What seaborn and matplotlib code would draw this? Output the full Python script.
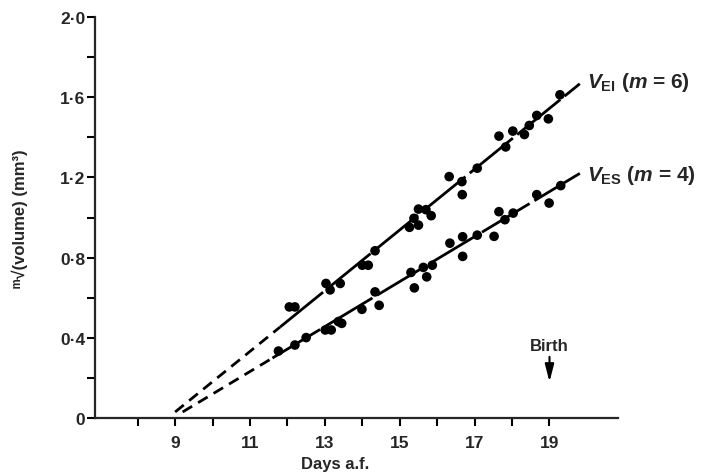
import matplotlib
matplotlib.use("Agg")
import matplotlib.pyplot as plt
import seaborn as sns
import pandas as pd
import numpy as np

# ---- data ----
vei_days = [12.05, 12.20, 13.03, 13.14, 13.41, 14.00, 14.16, 14.34, 15.26, 15.38,
            15.50, 15.50, 15.70, 15.84, 16.32, 16.66, 16.67, 17.07, 17.65, 17.83,
            18.02, 18.33, 18.46, 18.66, 18.97, 19.28]
vei_vals = [0.554, 0.554, 0.671, 0.639, 0.671, 0.762, 0.762, 0.834, 0.951, 0.996,
            0.962, 1.042, 1.039, 1.009, 1.204, 1.179, 1.114, 1.246, 1.406, 1.352,
            1.431, 1.414, 1.459, 1.509, 1.492, 1.612]

ves_days = [11.76, 12.20, 12.50, 13.01, 13.17, 13.36, 13.45, 13.99, 14.34, 14.45,
            15.30, 15.39, 15.63, 15.72, 15.87, 16.34, 16.68, 16.68, 17.07, 17.52,
            17.65, 17.81, 18.03, 18.66, 18.99, 19.30]
ves_vals = [0.334, 0.364, 0.401, 0.439, 0.439, 0.481, 0.472, 0.542, 0.629, 0.562,
            0.726, 0.649, 0.751, 0.704, 0.762, 0.872, 0.904, 0.806, 0.912, 0.906,
            1.029, 0.989, 1.022, 1.114, 1.072, 1.159]

# fitted lines: extrapolated (dashed) and fitted (solid) parts
vei_dash_days = [9.0, 11.8]
vei_dash_vals = [0.030, 0.453]
vei_fit_days = [11.8, 19.81]
vei_fit_vals = [0.453, 1.667]

ves_dash_days = [9.2, 11.6]
ves_dash_vals = [0.030, 0.299]
ves_fit_days = [11.6, 19.81]
ves_fit_vals = [0.299, 1.220]

y_ticks = [0, 0.4, 0.8, 1.2, 1.6, 2.0]
y_ticklabels = ['0', '0·4', '0·8', '1·2', '1·6', '2·0']
x_ticks = [9, 11, 13, 15, 17, 19]
x_ticklabels = ['9', '11', '13', '15', '17', '19']

sns.set_style("ticks")
plt.rcParams['font.family'] = ['Liberation Sans', 'DejaVu Sans']
plt.rcParams['mathtext.fontset'] = 'custom'
plt.rcParams['mathtext.rm'] = 'Liberation Sans:bold'
plt.rcParams['mathtext.it'] = 'Liberation Sans:italic:bold'
plt.rcParams['mathtext.bf'] = 'Liberation Sans:bold'

fig = plt.figure(figsize=(7.01, 4.77), dpi=100)
ax = fig.add_axes([95/701, 1-419/477, (618-95)/701, (419-18)/477])

df_vei = pd.DataFrame({'day': vei_days, 'val': vei_vals})
df_ves = pd.DataFrame({'day': ves_days, 'val': ves_vals})

lw = 2.0
sns.lineplot(x=vei_dash_days, y=vei_dash_vals, ax=ax, color='black', lw=lw, linestyle=(0, (4, 2.5)))
sns.lineplot(x=ves_dash_days, y=ves_dash_vals, ax=ax, color='black', lw=lw, linestyle=(0, (4, 2.5)))
sns.lineplot(x=vei_fit_days, y=vei_fit_vals, ax=ax, color='black', lw=lw, linestyle=(0, (20, 2)))
sns.lineplot(x=ves_fit_days, y=ves_fit_vals, ax=ax, color='black', lw=lw, linestyle=(0, (20, 2)))

sns.scatterplot(data=df_vei, x='day', y='val', ax=ax, color='black', s=48, edgecolor='none', zorder=5)
sns.scatterplot(data=df_ves, x='day', y='val', ax=ax, color='black', s=48, edgecolor='none', zorder=5)

ax.set_xlim(6.86, 20.83)
ax.set_ylim(0, 2.0)
ax.set_yticks(y_ticks)
ax.set_yticklabels(y_ticklabels)
ax.set_yticks([0.2, 0.6, 1.0, 1.4, 1.8], minor=True)
ax.set_xticks(x_ticks)
ax.set_xticklabels(x_ticklabels)
ax.set_xticks([8, 10, 12, 14, 16, 18], minor=True)

for lab in ax.get_xticklabels() + ax.get_yticklabels():
    lab.set_fontweight('bold')
    lab.set_fontsize(12.5)

ax.tick_params(axis='both', which='both', direction='out', length=6, width=1.5, color='black')
ax.tick_params(axis='y', which='major', pad=1)
ax.tick_params(axis='x', which='major', pad=6)

sns.despine(ax=ax)
ax.spines['left'].set_linewidth(1.6)
ax.spines['bottom'].set_linewidth(1.6)

ax.set_xlabel('Days a.f.', fontsize=12, fontweight='bold')
ax.xaxis.set_label_coords(0.459, -0.095)
ax.set_ylabel('\u1d50\u221a(volume) (mm\u00b3)', fontsize=12, fontweight='bold',
              family=['Liberation Sans', 'DejaVu Sans'])
ax.yaxis.set_label_coords(-0.128, 0.5)

ax.text(20.0, 1.68, r'$V_{\mathrm{EI}}$ ($m$ = 6)', fontsize=15, fontweight='bold',
        ha='left', va='center')
ax.text(20.0, 1.215, r'$V_{\mathrm{ES}}$ ($m$ = 4)', fontsize=15, fontweight='bold',
        ha='left', va='center')

ax.text(19.0, 0.36, 'Birth', fontsize=12, fontweight='bold', ha='center', va='center')
ax.annotate('', xy=(19.0, 0.18), xytext=(19.0, 0.305),
            arrowprops=dict(arrowstyle='-|>,head_length=0.7,head_width=0.18', color='black',
                            lw=1.5, mutation_scale=15, shrinkA=0, shrinkB=0))

fig.savefig('out.png', dpi=100)
